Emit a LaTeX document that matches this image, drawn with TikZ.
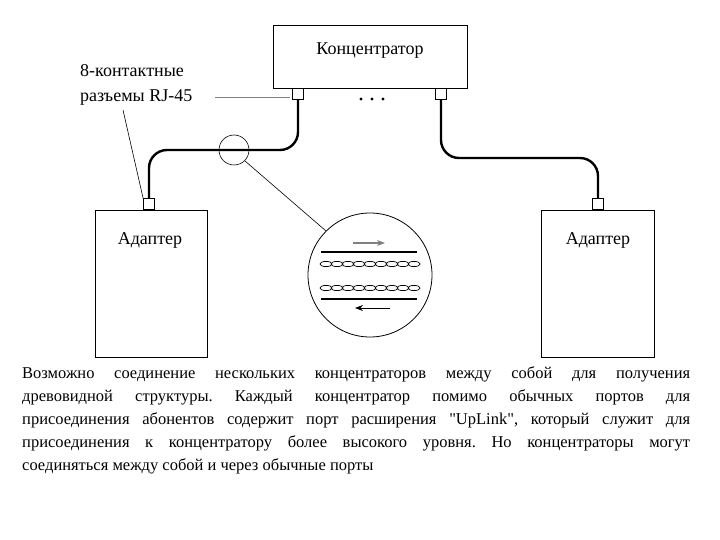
\documentclass[tikz,border=0pt]{standalone}
\usepackage{fontspec}
\setmainfont{Liberation Serif}
\usetikzlibrary{arrows.meta}
\begin{document}
\frenchspacing
\begin{tikzpicture}[x=1pt,y=-1pt,
  box/.style={draw,line width=1pt,inner sep=0pt},
  port/.style={draw,line width=0.8pt,minimum width=11pt,minimum height=11pt,inner sep=0pt},
  cable/.style={line width=2.4pt,rounded corners=18pt},
  lbl/.style={font=\fontsize{18}{20}\selectfont,inner sep=0pt}]
\useasboundingbox (0,0) rectangle (720,540);
\node[box,minimum width=194pt,minimum height=63pt,anchor=north west] (hub) at (273,25) {};
\node[lbl] (hubt) at (370,51) {Концентратор};
\node[box,minimum width=112pt,minimum height=147pt,anchor=north west] (la) at (95,210) {};
\node[lbl] (lat) at (150,240) {Адаптер};
\node[box,minimum width=113pt,minimum height=147pt,anchor=north west] (ra) at (541,210) {};
\node[lbl] (rat) at (598,240) {Адаптер};
\node[port,anchor=north] (hp1) at (298,88) {};
\node[port,anchor=north] (hp2) at (441,88) {};
\node[port,anchor=south] (lp) at (149,210) {};
\node[port,anchor=south] (rp) at (598,210) {};
\foreach \x in {361,372,383} \fill (\x,99) circle (1.6pt);
\draw[cable] (hp1.south) -- (298,150) -- (149,150) -- (lp.north);
\draw[cable] (hp2.south) -- (441,158) -- (598,158) -- (rp.north);
\node[draw,circle,minimum size=30pt,inner sep=0pt,line width=0.6pt] (sc) at (234,150) {};
\node[draw,circle,minimum size=124pt,inner sep=0pt,line width=0.8pt] (bc) at (370,275) {};
\draw[line width=0.6pt] (sc.-45) -- (bc.135);
\node[lbl,anchor=west] (l1) at (80,71) {8-контактные};
\node[lbl,anchor=west] (l2) at (80,97) {разъемы RJ-45};
\coordinate (lend) at (290,97);
\draw[gray,line width=0.8pt] (215,97) -- (lend);
\draw[line width=0.6pt] (123,110) -- (lp.north west);
\draw[line width=2pt] (321,252) -- (417,252);
\draw[line width=2pt] (321,299) -- (417,299);
\foreach \y in {264,288}{
  \foreach \i in {0,...,8}{
    \draw[line width=0.7pt] (326+\i*11,\y) ellipse (6pt and 2.6pt);
  }
}
\draw[gray,line width=1.2pt,-{Stealth[length=8pt]}] (353,243) -- (385,243);
\draw[line width=0.8pt,-{Stealth[length=8pt]}] (390,308) -- (355,308);
\node[font=\fontsize{16.5}{23.2}\selectfont,text width=668pt,align=justify,anchor=north west,inner sep=0pt] (txt) at (22,366) {Возможно соединение нескольких концентраторов между собой для получения\linebreak древовидной структуры. Каждый концентратор помимо обычных портов для\linebreak присоединения абонентов содержит порт расширения \textquotedbl UpLink\textquotedbl, который служит для\linebreak присоединения к концентратору более высокого уровня. Но концентраторы могут\linebreak соединяться между собой и через обычные порты};
\end{tikzpicture}
\end{document}
